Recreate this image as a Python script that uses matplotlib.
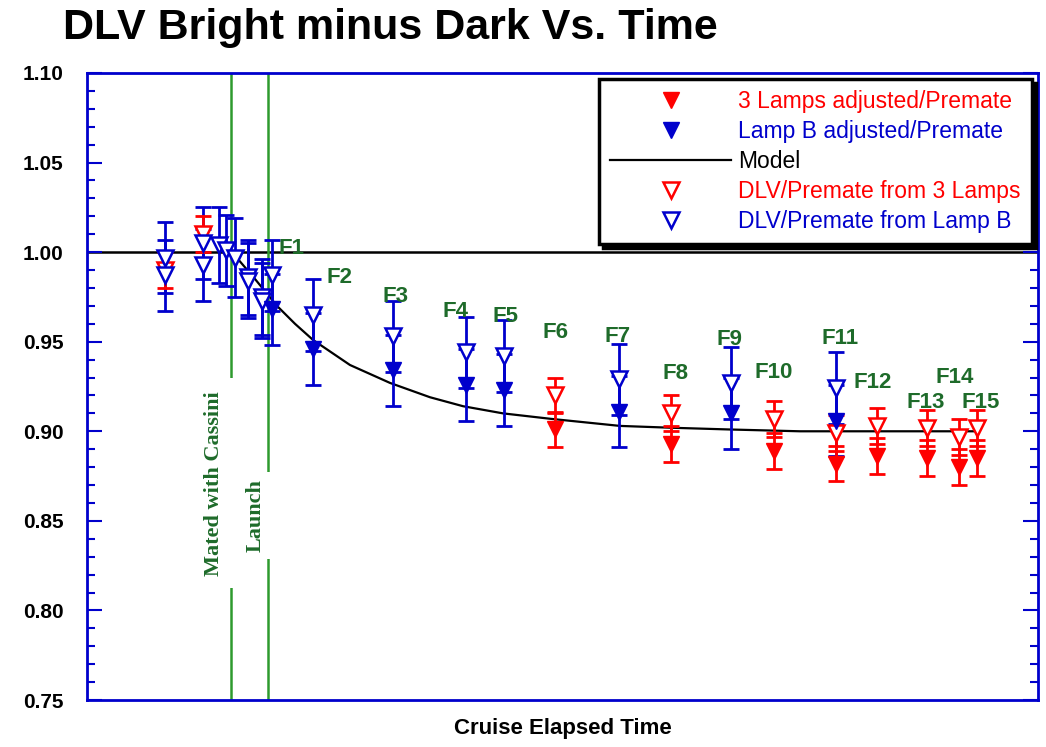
import matplotlib
matplotlib.use('Agg')
import matplotlib.pyplot as plt
from matplotlib.ticker import MultipleLocator, NullLocator

plt.rcParams['font.family'] = ['Liberation Sans', 'DejaVu Sans']

BLUE = '#0000cc'
RED = '#ff0000'
GREEN_LINE = '#2e9a2e'
GREEN_TEXT = '#1e6b2a'

# cruise elapsed time in arbitrary units (no scale is shown on the chart)
# pre-launch measurements (DLV / Premate only)
pre_blue_t = [78, 78, 116, 116, 132, 139, 148, 161, 161, 175, 175]
pre_blue_v = [0.997, 0.987, 1.005, 0.993, 1.004, 1.001, 0.997, 0.986, 0.984, 0.975, 0.973]
pre_blue_err = [0.020, 0.020, 0.020, 0.020, 0.021, 0.020, 0.022, 0.021, 0.021, 0.021, 0.021]
pre_red_t = [78, 116]
pre_red_v = [0.990, 1.010]
pre_red_err = [0.010, 0.010]

# in-flight checkouts, Lamp B
blue_t = [185, 226, 306, 379, 417, 532, 644, 749]
blue_dlv = [0.987, 0.965, 0.953, 0.944, 0.942, 0.929, 0.927, 0.924]
blue_adj = [0.968, 0.946, 0.934, 0.926, 0.923, 0.911, 0.910, 0.906]
blue_err = 0.020

# in-flight checkouts, 3 lamps
red_t = [468, 584, 687, 749, 790, 840, 872, 890]
red_dlv = [0.920, 0.910, 0.907, 0.899, 0.903, 0.902, 0.897, 0.902]
red_adj = [0.901, 0.893, 0.889, 0.882, 0.886, 0.885, 0.880, 0.885]
red_err = 0.010

# model curve
model_t = [145, 168, 190, 208, 226, 263, 303, 343, 376, 416, 463, 533, 583, 643, 713, 891]
model_v = [1.000, 0.985, 0.970, 0.960, 0.951, 0.937, 0.927, 0.919, 0.914, 0.910, 0.907,
           0.903, 0.902, 0.901, 0.900, 0.900]

# flight labels
flights = ['F1', 'F2', 'F3', 'F4', 'F5', 'F6', 'F7', 'F8', 'F9', 'F10',
           'F11', 'F12', 'F13', 'F14', 'F15']
label_t = [204, 253, 308, 368, 419, 469, 531, 589, 643, 687, 753, 786, 839, 868, 894]
label_v = [1.002, 0.986, 0.9755, 0.967, 0.964, 0.955, 0.953, 0.932, 0.951, 0.933,
           0.952, 0.927, 0.916, 0.930, 0.916]

mated_t = 144
launch_t = 181

fig = plt.figure(figsize=(10.46, 7.47), dpi=100)
ax = fig.add_axes([87/1046, 1 - 700/747, (1038 - 87)/1046, (700 - 73)/747])

eb = dict(fmt='none', elinewidth=2, capsize=5.5, capthick=2, zorder=2)
ax.errorbar(pre_blue_t, pre_blue_v, yerr=pre_blue_err, ecolor=BLUE, **eb)
ax.errorbar(pre_red_t, pre_red_v, yerr=pre_red_err, ecolor=RED, **eb)
ax.errorbar(blue_t, blue_dlv, yerr=blue_err, ecolor=BLUE, **eb)
ax.errorbar(blue_t, blue_adj, yerr=blue_err, ecolor=BLUE, **eb)
ax.errorbar(red_t, red_dlv, yerr=red_err, ecolor=RED, **eb)
ax.errorbar(red_t, red_adj, yerr=red_err, ecolor=RED, **eb)

ax.axhline(1.0, color='black', lw=1.8, zorder=1)
h_model, = ax.plot(model_t, model_v, color='black', lw=1.6, zorder=1, label='Model')

h_red_adj, = ax.plot(red_t, red_adj, 'v', color=RED, ms=11, zorder=4,
                     label='3 Lamps adjusted/Premate')
h_blue_adj, = ax.plot(blue_t, blue_adj, 'v', color=BLUE, ms=11, zorder=4,
                      label='Lamp B adjusted/Premate')
h_red_dlv, = ax.plot(pre_red_t + red_t, pre_red_v + red_dlv, 'v', color=RED, ms=11,
                     mfc='white', mew=1.8, zorder=3, label='DLV/Premate from 3 Lamps')
h_blue_dlv, = ax.plot(pre_blue_t + blue_t, pre_blue_v + blue_dlv, 'v', color=BLUE, ms=11,
                      mfc='white', mew=1.8, zorder=3, label='DLV/Premate from Lamp B')

for name, t, v in zip(flights, label_t, label_v):
    ax.text(t, v, name, color=GREEN_TEXT, fontsize=16, fontweight='bold',
            ha='center', va='center', zorder=5)

ax.axvline(mated_t, color=GREEN_LINE, lw=1.8, zorder=1.5)
ax.axvline(launch_t, color=GREEN_LINE, lw=1.8, zorder=1.5)
ax.text(mated_t - 17, 0.871, 'Mated with Cassini', rotation=90, ha='center', va='center',
        family='Liberation Serif', fontweight='bold', fontsize=16, color=GREEN_TEXT,
        bbox=dict(facecolor='white', edgecolor='none', pad=9), zorder=1.6)
ax.text(launch_t - 12, 0.853, 'Launch', rotation=90, ha='center', va='center',
        family='Liberation Serif', fontweight='bold', fontsize=16, color=GREEN_TEXT,
        bbox=dict(facecolor='white', edgecolor='none', pad=5), zorder=1.6)

ax.set_xlim(0, 951)
ax.set_ylim(0.75, 1.10)
ax.yaxis.set_major_locator(MultipleLocator(0.05))
ax.yaxis.set_minor_locator(MultipleLocator(0.01))
ax.xaxis.set_major_locator(NullLocator())
ax.set_yticklabels([f'{v:.2f}' for v in ax.get_yticks()])
ax.tick_params(axis='y', which='both', direction='in', left=True, right=True,
               color=BLUE, width=1.5, labelsize=15, pad=17)
ax.tick_params(axis='y', which='major', length=11)
ax.tick_params(axis='y', which='minor', length=6)
for lab in ax.get_yticklabels():
    lab.set_fontweight('bold')
for s in ax.spines.values():
    s.set_color(BLUE)
    s.set_linewidth(2)

ax.set_xlabel('Cruise Elapsed Time', fontsize=16, fontweight='bold', labelpad=13)
fig.text(63/1046, 1 - 28/747, 'DLV Bright minus Dark Vs. Time', fontsize=31,
         fontweight='bold', ha='left', va='center')

leg = ax.legend(handles=[h_red_adj, h_blue_adj, h_model, h_red_dlv, h_blue_dlv],
                loc='upper right', fontsize=16.5, handlelength=5.3, handletextpad=0.3,
                labelspacing=0.3, borderpad=0.5, borderaxespad=0.25, fancybox=False,
                framealpha=1, edgecolor='black', labelcolor='linecolor',
                shadow={'color': 'black', 'alpha': 1, 'ox': 3, 'oy': -3})
leg.get_frame().set_linewidth(2.5)
leg.set_zorder(10)

fig.savefig('out.png', dpi=100)
